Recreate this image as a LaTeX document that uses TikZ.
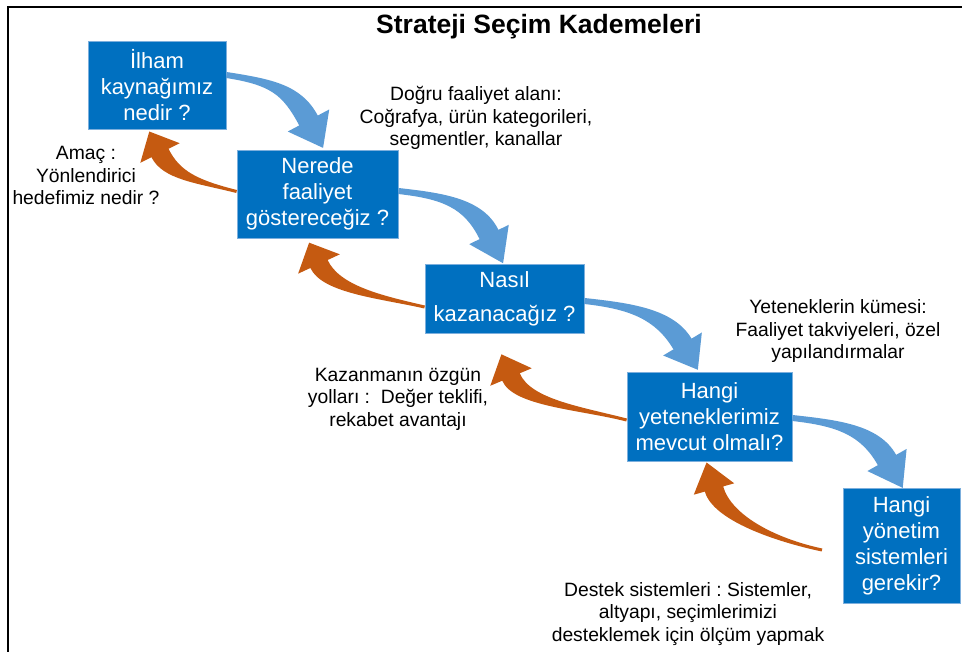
\documentclass[tikz,border=0pt]{standalone}
\usepackage{fontspec}
\setmainfont{Liberation Sans}
\usetikzlibrary{calc}
\definecolor{boxblue}{HTML}{0070C0}
\definecolor{arrblue}{HTML}{5B9BD5}
\definecolor{arrorange}{HTML}{C55A11}
\frenchspacing
% #1 colour, #2 start, #3 ctrl1, #4 ctrl2, #5 head base, #6 start half-width, #7 end half-width, #8 head half-width, #9 head length
\newcommand\blockarr[9]{%
  \fill[#1] ($#2!#6!90:#3$) .. controls ($#3!#6!-90:#2$) and ($#4!#7!90:#5$) .. ($#5!#7!-90:#4$)
    -- ($#5!#8!-90:#4$) -- ($#5!-#9!#4$) -- ($#5!#8!90:#4$) -- ($#5!#7!90:#4$)
    .. controls ($#4!#7!-90:#5$) and ($#3!#6!90:#2$) .. ($#2!#6!-90:#3$) -- cycle;}
\begin{document}
\begin{tikzpicture}[x=1pt,y=-1pt,
  qbox/.style={fill=boxblue, draw=arrblue!80, line width=0.8pt, text=white, align=center,
    inner sep=0pt, font=\fontsize{22}{26}\selectfont},
  note/.style={align=center, inner sep=0pt, font=\fontsize{19.3}{22.5}\selectfont}]
\useasboundingbox (0,0) rectangle (962,652);
\fill[white] (0,0) rectangle (962,652);
\draw[line width=2pt] (8,652) -- (8,7) -- (962,7);

\node[font=\bfseries\fontsize{26.5}{30}\selectfont, anchor=base, inner sep=0pt] (title) at (539,34) {Strateji Seçim Kademeleri};

\node[qbox, minimum width=138pt, minimum height=88pt] (b1) at (157,85) {İlham\\kaynağımız\\nedir ?};
\node[qbox, minimum width=161pt, minimum height=88pt] (b2) at (317.5,194) {Nerede\\faaliyet\\göstereceğiz ?};
\node[qbox, minimum width=159pt, minimum height=69pt] (b3) at (504.5,298.5) {Nasıl\\[8pt]kazanacağız ?};
\node[qbox, minimum width=165pt, minimum height=89pt] (b4) at (709.5,416.5) {Hangi\\yeteneklerimiz\\mevcut olmalı?};
\node[qbox, minimum width=117pt, minimum height=115pt] (b5) at (901.5,545.5) {Hangi\\yönetim\\sistemleri\\gerekir?};

\node[note] (n1) at (476,118) {Doğru faaliyet alanı:\\Coğrafya, ürün kategorileri,\\segmentler, kanallar};
\node[note] (n2) at (86,175.5) {Amaç :\\Yönlendirici\\hedefimiz nedir ?};
\node[note] (n3) at (398,399) {Kazanmanın özgün\\yolları :~ Değer teklifi,\\rekabet avantajı};
\node[note] (n4) at (838,331.5) {Yeteneklerin kümesi:\\Faaliyet takviyeleri, özel\\yapılandırmalar};
\node[note] (n5) at (688,614) {Destek sistemleri : Sistemler,\\altyapı, seçimlerimizi\\desteklemek için ölçüm yapmak};

% start points of the arrows
\coordinate (s1) at ($(b1.east)+(0,-10)$);
\coordinate (s2) at ($(b2.east)+(0,-3)$);
\coordinate (s3) at ($(b3.east)+(0,2.5)$);
\coordinate (s4) at ($(b4.east)+(0,1.5)$);
\coordinate (o1) at ($(b2.west)+(0,-2.5)$);
\coordinate (o2) at ($(b3.west)+(0,8.5)$);
\coordinate (o3) at ($(b4.west)+(0,3.5)$);
\coordinate (o4) at (822,550);

\blockarr{arrblue}{(s1)}{(271,82)}{(292,89.5)}{(308.5,120.5)}{3pt}{10.5pt}{23.5pt}{31pt}
\blockarr{arrblue}{(s2)}{(443,196)}{(473.6,203.1)}{(489,234.5)}{3pt}{10.5pt}{22pt}{32pt}
\blockarr{arrblue}{(s3)}{(630,306)}{(664.6,313.9)}{(682.5,344)}{3pt}{10.5pt}{22.5pt}{30pt}
\blockarr{arrblue}{(s4)}{(837,423)}{(869.8,429.5)}{(887,460)}{3pt}{10.5pt}{22.5pt}{32pt}

\blockarr{arrorange}{(o1)}{(197,181.5)}{(171.2,175.5)}{(160,153)}{1.5pt}{9.5pt}{22pt}{24pt}
\blockarr{arrorange}{(o2)}{(381,297)}{(330.8,289.5)}{(319,264)}{1.5pt}{9.5pt}{23pt}{23.5pt}
\blockarr{arrorange}{(o3)}{(580,408)}{(521.9,402.8)}{(511,377)}{1.5pt}{9.5pt}{22.5pt}{24.6pt}
\blockarr{arrorange}{(o4)}{(775,540)}{(722.1,517.8)}{(714,489)}{1.5pt}{9.5pt}{21pt}{27.5pt}
\end{tikzpicture}
\end{document}
